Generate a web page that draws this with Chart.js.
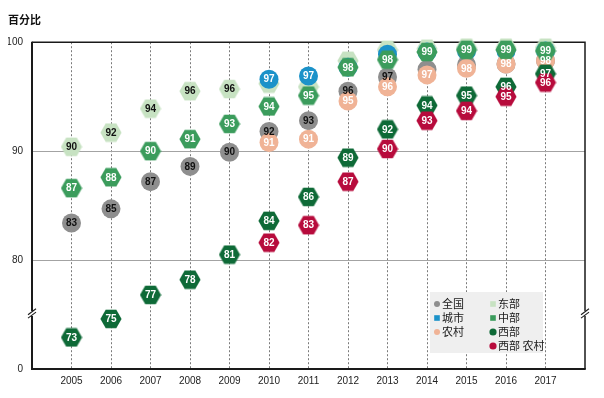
<!DOCTYPE html>
<html>
<head>
<meta charset="utf-8">
<script src="https://cdn.jsdelivr.net/npm/chart.js@4"></script>
<style>
  html, body { margin: 0; padding: 0; background: #fff; }
  #wrap { width: 604px; height: 398px; }
</style>
</head>
<body>
<div id="wrap"><canvas id="chart" width="604" height="398"></canvas></div>
<script>
// values (percent); bottom of the axis is a broken "0"
var years = [2005, 2006, 2007, 2008, 2009, 2010, 2011, 2012, 2013, 2014, 2015, 2016, 2017];
var quanguo     = [83.4, 84.7, 87.2, 88.6, 89.9, 91.8, 92.8, 95.5, 96.8, 97.5, 97.9, 98.0, 98.3];
var chengshi    = [null, null, null, null, null, 96.6, 96.9, 97.7, 98.9, 99.1, 99.2, 99.2, 99.2];
var nongcun     = [null, null, null, null, null, 90.8, 91.1, 94.6, 95.9, 97.0, 97.6, 98.0, 98.3];
var dongbu      = [90.4, 91.7, 93.9, 95.5, 95.7, 96.2, 95.9, 98.3, 99.3, 99.4, 99.5, 99.5, 99.5];
var zhongbu     = [86.6, 87.6, 90.0, 91.1, 92.5, 94.1, 95.1, 97.7, 98.4, 99.1, 99.3, 99.3, 99.2];
var xibu        = [72.9, 74.6, 76.8, 78.2, 80.5, 83.6, 85.8, 89.4, 92.0, 94.2, 95.1, 95.9, 97.1];
var xibuNongcun = [null, null, null, null, null, 81.6, 83.2, 87.2, 90.2, 92.8, 93.7, 95.0, 96.3];
// years whose number is covered by another marker in the picture
var quanguoNoLabel  = [2014, 2015, 2016, 2017];
var chengshiNoLabel = [2012, 2013, 2014, 2015, 2016, 2017];
var dongbuNoLabel   = [2010, 2011, 2012, 2013, 2014, 2015, 2016, 2017];
var yTicks = [70, 80, 90, 100];
var yTickText = ["0", "80", "90", "100"];

// hexagon marker (flat top / bottom)
function hexagon(color) {
	var c = document.createElement("canvas");
	c.width = 22; c.height = 20;
	var g = c.getContext("2d");
	g.fillStyle = color;
	g.beginPath();
	for (var i = 0; i < 6; i++) {
		var a = Math.PI / 3 * i;
		var px = 11 + 10.6 * Math.cos(a), py = 10 + 10.6 * Math.sin(a);
		if (i == 0) g.moveTo(px, py); else g.lineTo(px, py);
	}
	g.closePath();
	g.fill();
	return c;
}

function pts(arr) {
	var out = [];
	for (var i = 0; i < years.length; i++) {
		if (arr[i] != null) out.push({ x: years[i], y: arr[i] });
	}
	return out;
}

function series(label, arr, color, textColor, hex, legendShape, order, noLabel) {
	return {
		label: label,
		data: pts(arr),
		backgroundColor: color,
		borderWidth: 0,
		pointStyle: hex ? hexagon(color) : "circle",
		pointRadius: 9.5,
		pointHoverRadius: 9.5,
		showLine: false,
		clip: false,
		order: order,
		textColor: textColor,
		legendShape: legendShape,
		noLabel: noLabel || []
	};
}

var datasets = [
	series("全国", quanguo, "#8e8e8e", "#111", false, "circle", 4, quanguoNoLabel),
	series("城市", chengshi, "#1b92c9", "#fff", false, "square", 5, chengshiNoLabel),
	series("农村", nongcun, "#f0b396", "#fff", false, "circle", 3),
	series("东部", dongbu, "#c7e2c2", "#111", true, "square", 6, dongbuNoLabel),
	series("中部", zhongbu, "#3b9c5c", "#fff", true, "square", 2),
	series("西部", xibu, "#0e6a37", "#fff", true, "circle", 1),
	series("西部 农村", xibuNongcun, "#b70b3c", "#fff", true, "circle", 0)
];

// numbers printed inside the markers, on top of all markers
var valueLabels = {
	id: "valueLabels",
	afterDatasetsDraw: function(chart) {
		var ctx = chart.ctx;
		ctx.save();
		ctx.font = "bold 10px 'Liberation Sans', Arial, sans-serif";
		ctx.textAlign = "center";
		ctx.textBaseline = "middle";
		chart.data.datasets.forEach(function(ds, di) {
			var meta = chart.getDatasetMeta(di);
			ctx.fillStyle = ds.textColor;
			meta.data.forEach(function(el, i) {
				if (ds.noLabel.indexOf(ds.data[i].x) >= 0) return;
				ctx.fillText(String(Math.round(ds.data[i].y)), el.x, el.y + 0.5);
			});
		});
		ctx.restore();
	}
};

// box frame plus the axis break marks
var frame = {
	id: "frame",
	beforeDatasetsDraw: function(chart) {
		var a = chart.chartArea, ctx = chart.ctx;
		ctx.save();
		ctx.strokeStyle = "#1a1a1a";
		ctx.lineWidth = 1.5;
		ctx.beginPath();
		ctx.moveTo(a.left, a.top); ctx.lineTo(a.right, a.top); ctx.lineTo(a.right, a.bottom);
		ctx.stroke();
		ctx.lineWidth = 2;
		ctx.beginPath();
		ctx.moveTo(a.left, a.top - 0.5); ctx.lineTo(a.left, a.bottom); ctx.lineTo(a.right + 0.75, a.bottom);
		ctx.stroke();

		var yb = chart.scales.y.getPixelForValue(75.1);
		[a.left, a.right].forEach(function(x) {
			ctx.strokeStyle = "#fff";
			ctx.lineWidth = 3;
			ctx.beginPath();
			ctx.moveTo(x, yb - 2.5); ctx.lineTo(x, yb + 2.5);
			ctx.stroke();
			ctx.strokeStyle = "#1a1a1a";
			ctx.lineWidth = 1.1;
			[-1.7, 1.7].forEach(function(d) {
				ctx.beginPath();
				ctx.moveTo(x - 4, yb + d + 3);
				ctx.lineTo(x + 4, yb + d - 3);
				ctx.stroke();
			});
		});
		ctx.restore();
	}
};

// two column legend in a grey box, bottom right of the plot
var boxLegend = {
	id: "boxLegend",
	afterDraw: function(chart) {
		var a = chart.chartArea, ctx = chart.ctx;
		var bx = a.right - 155, by = a.bottom - 77;
		ctx.save();
		ctx.fillStyle = "#efefef";
		ctx.fillRect(bx, by, 113, 61);
		var cols = [[0, 1, 2], [3, 4, 5, 6]];
		ctx.font = "11px 'Noto Sans CJK SC', sans-serif";
		ctx.textBaseline = "middle";
		cols.forEach(function(col, c) {
			col.forEach(function(di, r) {
				var ds = chart.data.datasets[di];
				var mx = bx + 7 + c * 56, my = by + 12 + r * 14;
				ctx.fillStyle = ds.backgroundColor;
				if (ds.legendShape == "square") {
					ctx.fillRect(mx - 2.8, my - 2.8, 5.6, 5.6);
				} else {
					ctx.beginPath();
					ctx.arc(mx, my, di >= 5 ? 3.6 : 3, 0, Math.PI * 2);
					ctx.fill();
				}
				ctx.fillStyle = "#1a1a1a";
				ctx.fillText(ds.label, mx + 5, my);
			});
		});
		ctx.restore();
	}
};

var ctx = document.getElementById("chart");

var chart = new Chart(ctx, {
	type: "scatter",
	data: { datasets: datasets },
	options: {
		responsive: false,
		animation: false,
		events: [],
		layout: { padding: { left: 8, right: 19, top: 0, bottom: 0 } },
		plugins: {
			legend: { display: false },
			tooltip: { enabled: false },
			title: {
				display: true,
				text: "百分比",
				align: "start",
				color: "#111",
				font: { family: "'Noto Sans CJK SC', sans-serif", size: 11, weight: "bold" },
				padding: { top: 13, bottom: 16 }
			}
		},
		scales: {
			x: {
				type: "linear",
				min: 2004,
				max: 2018,
				afterFit: function(s) { s.height = 29; },
				afterBuildTicks: function(s) {
					s.ticks = [2004].concat(years, [2018]).map(function(v) { return { value: v }; });
				},
				ticks: {
					autoSkip: false,
					maxRotation: 0,
					padding: 6,
					color: "#222",
					font: { family: "'Liberation Sans', Arial, sans-serif", size: 10 },
					callback: function(v) { return years.indexOf(v) >= 0 ? String(v) : ""; }
				},
				grid: {
					drawTicks: false,
					color: function(c) { return c.tick && years.indexOf(c.tick.value) >= 0 ? "#7a7a7a" : "rgba(0,0,0,0)"; },
					lineWidth: 1
				},
				border: { display: false, dash: [2, 2] }
			},
			y: {
				min: 70,
				max: 100,
				afterFit: function(s) { s.width = 24; },
				afterBuildTicks: function(s) {
					s.ticks = yTicks.map(function(v) { return { value: v }; });
				},
				ticks: {
					padding: 9,
					color: "#222",
					font: { family: "'Liberation Sans', Arial, sans-serif", size: 10 },
					callback: function(v) { return yTickText[yTicks.indexOf(v)]; }
				},
				grid: {
					drawTicks: false,
					color: function(c) { return c.tick && (c.tick.value == 80 || c.tick.value == 90) ? "#a3a3a3" : "rgba(0,0,0,0)"; },
					lineWidth: 1
				},
				border: { display: false }
			}
		}
	},
	plugins: [frame, valueLabels, boxLegend]
});
</script>
</body>
</html>
